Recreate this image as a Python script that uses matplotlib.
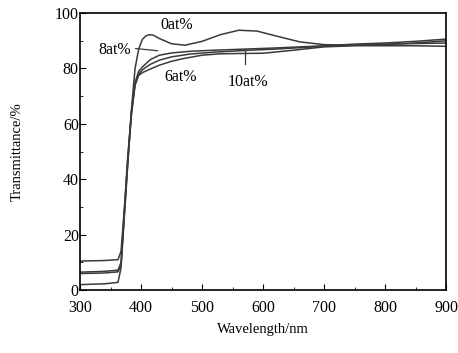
import numpy as np
import matplotlib.pyplot as plt
from matplotlib.ticker import MultipleLocator

plt.rcParams['font.family'] = ['Liberation Serif', 'DejaVu Serif']

# wavelength (nm) and transmittance (%)
wl_0 = [300, 340, 362, 367, 372, 378, 384, 390, 396, 402, 408, 414, 420, 430, 450, 472, 500, 530, 560, 590, 620, 660, 700, 750, 800, 850, 900]
tr_0 = [2.0, 2.3, 2.8, 8, 25, 45, 65, 80, 87, 90.5, 91.8, 92.2, 92.0, 90.8, 88.9, 88.4, 89.8, 92.2, 93.8, 93.5, 91.8, 89.6, 88.6, 88.4, 88.6, 89.2, 90.0]

wl_6 = [300, 340, 362, 367, 372, 378, 384, 390, 396, 402, 415, 430, 450, 470, 500, 530, 560, 600, 650, 700, 750, 800, 850, 900]
tr_6 = [10.5, 10.7, 11.0, 14, 28, 48, 64, 74, 77.5, 78.5, 79.8, 81.2, 82.6, 83.6, 84.8, 85.3, 85.4, 85.5, 86.6, 87.8, 88.2, 88.2, 88.2, 88.0]

wl_8 = [300, 340, 362, 367, 372, 378, 384, 390, 396, 402, 415, 430, 450, 480, 520, 570, 620, 700, 750, 800, 850, 900]
tr_8 = [6.5, 6.8, 7.2, 10, 27, 47, 64, 75, 79, 80.5, 83.2, 84.8, 85.6, 86.2, 86.6, 87.0, 87.4, 88.2, 88.8, 89.2, 89.8, 90.6]

wl_10 = [300, 340, 362, 367, 372, 378, 384, 390, 396, 402, 415, 430, 450, 480, 520, 570, 620, 700, 750, 800, 850, 900]
tr_10 = [6.0, 6.2, 6.6, 9, 26, 46, 63, 74, 78, 79.5, 81.5, 83.0, 84.2, 85.2, 85.9, 86.5, 87.0, 88.0, 88.4, 88.8, 89.0, 89.2]

fig = plt.figure(figsize=(4.58, 3.53), dpi=100)
ax = fig.add_axes([0.175, 0.178, 0.799, 0.785])

for w, t in [(wl_0, tr_0), (wl_6, tr_6), (wl_8, tr_8), (wl_10, tr_10)]:
    ax.plot(w, t, color='#3a3a3a', lw=1.1)

ax.set_xlim(300, 900)
ax.set_ylim(0, 100)
ax.xaxis.set_major_locator(MultipleLocator(100))
ax.xaxis.set_minor_locator(MultipleLocator(50))
ax.yaxis.set_major_locator(MultipleLocator(20))
ax.yaxis.set_minor_locator(MultipleLocator(10))
ax.tick_params(which='both', direction='in', top=False, right=False, labelsize=11.5)
ax.tick_params(axis='x', pad=7)
ax.tick_params(axis='y', pad=1)
ax.tick_params(which='major', length=4)
ax.tick_params(which='minor', length=2)
for s in ax.spines.values():
    s.set_linewidth(1.2)

ax.set_xlabel('Wavelength/nm', fontsize=10.5, labelpad=5)
ax.set_ylabel('Transmittance/%', fontsize=10.5, labelpad=22)

# curve labels
ax.text(459, 95.7, '0at%', fontsize=11.5, ha='center', va='center')
ax.text(356, 86.6, '8at%', fontsize=11.5, ha='center', va='center')
ax.plot([391, 427], [87.2, 86.4], color='#3a3a3a', lw=0.9)
ax.text(464, 76.9, '6at%', fontsize=11.5, ha='center', va='center')
ax.text(575, 75.0, '10at%', fontsize=11.5, ha='center', va='center')
ax.plot([570, 570], [86.6, 81.5], color='#3a3a3a', lw=0.9)

fig.savefig('out.png', dpi=100)
